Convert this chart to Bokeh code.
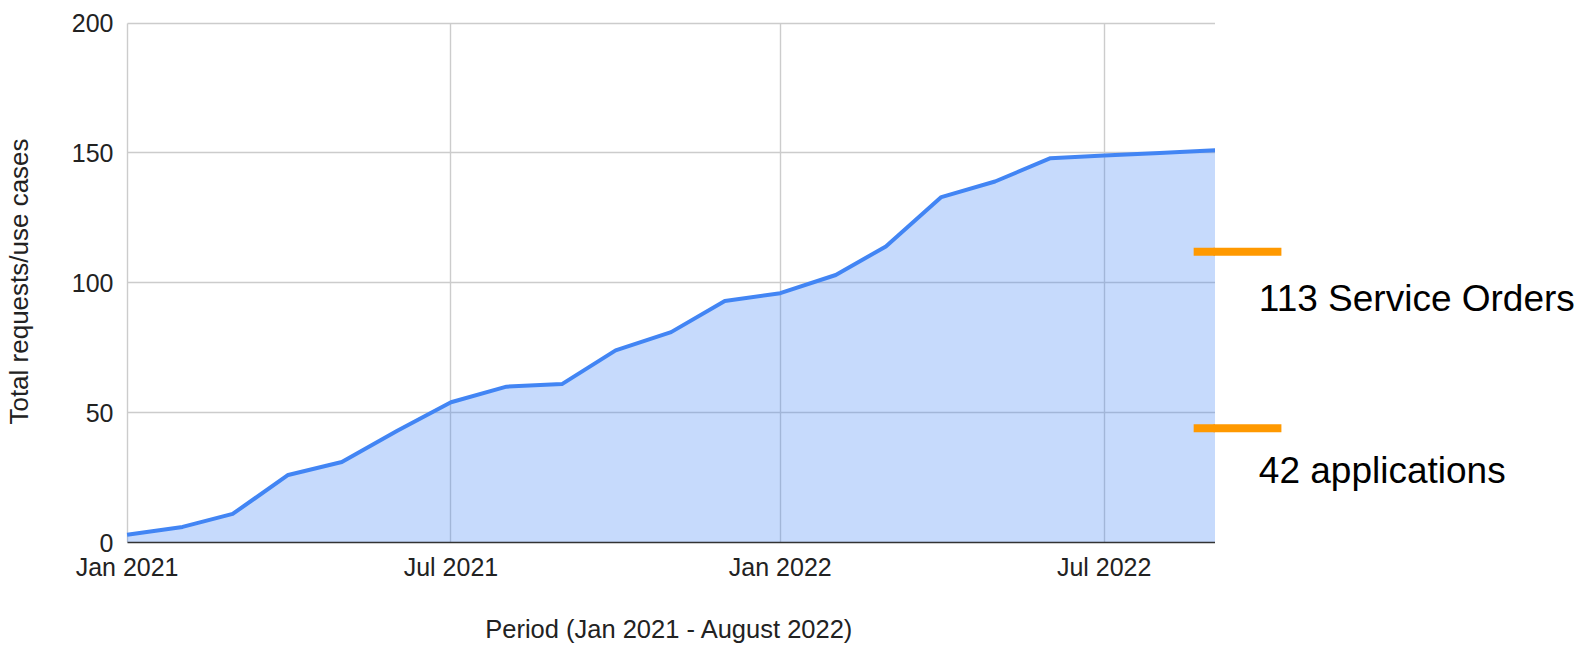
import pandas as pd
from bokeh.plotting import figure
from bokeh.layouts import row
from bokeh.models import Range1d, FixedTicker, MonthsTicker, DatetimeTickFormatter, ColumnDataSource
from bokeh.core.properties import value
from bokeh.embed import file_html
from bokeh.resources import INLINE

# ---------------- data ----------------
months = ["2021-01", "2021-02", "2021-03", "2021-04", "2021-05", "2021-06",
          "2021-07", "2021-08", "2021-09", "2021-10", "2021-11", "2021-12",
          "2022-01", "2022-02", "2022-03", "2022-04", "2022-05", "2022-06",
          "2022-07", "2022-08", "2022-09"]
totals = [3, 6, 11, 26, 31, 43, 54, 60, 61, 74, 81, 93,
          96, 103, 114, 133, 139, 148, 149, 150, 151]
y_ticks = [0, 50, 100, 150, 200]
x_tick_months = [0, 6]          # Jan and Jul
annot_labels = ["113 Service Orders", "42 applications"]
annot_marker_levels = [112, 44]
annot_text_levels = [93.8, 27.7]
x_title = "Period (Jan 2021 - August 2022)"
y_title = "Total requests/use cases"

# ---------------- build ----------------
dates = pd.to_datetime([m + "-01" for m in months])
first, last = dates[0], dates[-1]
src = ColumnDataSource(dict(x=dates, y=totals, y0=[0] * len(totals)))

PX_PER_DAY = 1.7912
W, H = 1581, 645
W1 = 1215                     # main chart width; the annotation strip takes the rest
OVERLAP = 2                   # strip slightly overlaps the chart (transparent)
W2 = W - W1
ML, MT, MB = 122, 20, 103
x_start = first - pd.Timedelta(days=2)
x_mid = x_start + pd.Timedelta(days=(W1 - ML) / PX_PER_DAY)
q_start = x_mid - pd.Timedelta(days=OVERLAP / PX_PER_DAY)
q_end = q_start + pd.Timedelta(days=W2 / PX_PER_DAY)
y_range = Range1d(0, 201)

FONT = "Liberation Sans"
TXT = "#222222"

p = figure(width=W1, height=H, x_axis_type="datetime",
           x_range=Range1d(x_start, x_mid), y_range=y_range,
           output_backend="svg", toolbar_location=None,
           min_border_left=ML, min_border_right=0,
           min_border_top=MT, min_border_bottom=MB)
p.outline_line_color = None
p.background_fill_color = "white"
p.border_fill_color = "white"

# area + line
p.varea(x="x", y1="y0", y2="y", source=src, fill_color="#4285f4", fill_alpha=0.3)
p.line(x="x", y="y", source=src, line_color="#4285f4", line_width=4, line_join="round")

# annotation strip to the right of the chart, continuing the same scales
q = figure(width=W2, height=H, x_axis_type="datetime",
           x_range=Range1d(q_start, q_end), y_range=y_range,
           x_axis_location=None, y_axis_location=None,
           output_backend="svg", toolbar_location=None,
           min_border_left=0, min_border_right=0,
           min_border_top=MT, min_border_bottom=MB,
           margin=(0, 0, 0, -OVERLAP))
q.outline_line_color = None
q.grid.visible = False
q.background_fill_color = None
q.border_fill_color = None

seg_x0 = [last - pd.Timedelta(days=12)] * 2
seg_x1 = [last + pd.Timedelta(days=37)] * 2
for fig in (p, q):
    fig.segment(x0=seg_x0, y0=annot_marker_levels, x1=seg_x1, y1=annot_marker_levels,
                line_color="#ff9900", line_width=8, line_cap="butt")
q.text(x=[last + pd.Timedelta(days=24.4)] * 2, y=annot_text_levels, text=annot_labels,
       text_font=value(FONT), text_font_size="37px", text_color="#000000",
       text_align="left", text_baseline="alphabetic", text_line_height=1.0)

# x axis
xa = p.xaxis[0]
xa.ticker = MonthsTicker(months=x_tick_months)
xa.formatter = DatetimeTickFormatter(months="%b %Y", years="%b %Y", days="%b %Y")
xa.bounds = (first, last)
xa.axis_line_color = "#333333"
xa.axis_line_width = 1.5
xa.major_tick_line_color = None
xa.minor_tick_line_color = None
xa.major_tick_out = 0
xa.major_tick_in = 0
xa.minor_tick_out = 0
xa.major_label_standoff = 10
xa.major_label_text_font = FONT
xa.major_label_text_font_size = "25px"
xa.major_label_text_color = TXT
xa.axis_label = x_title
xa.axis_label_text_font = FONT
xa.axis_label_text_font_size = "25.5px"
xa.axis_label_text_font_style = "normal"
xa.axis_label_text_color = TXT
xa.axis_label_standoff = 31

# y axis
ya = p.yaxis[0]
ya.ticker = FixedTicker(ticks=y_ticks)
ya.axis_line_color = None
ya.major_tick_line_color = None
ya.minor_tick_line_color = None
ya.major_tick_out = 0
ya.major_tick_in = 0
ya.minor_tick_out = 0
ya.major_label_standoff = 10
ya.major_label_text_font = FONT
ya.major_label_text_font_size = "25px"
ya.major_label_text_color = TXT
ya.axis_label = y_title
ya.axis_label_text_font = FONT
ya.axis_label_text_font_size = "26px"
ya.axis_label_text_font_style = "normal"
ya.axis_label_text_color = TXT
ya.axis_label_standoff = 35

# grids
first_ms = first.timestamp() * 1000
last_ms = last.timestamp() * 1000
p.xgrid.grid_line_color = "#cccccc"
p.xgrid.grid_line_width = 1.4
p.xgrid.cross_bounds = (0, 200)
p.ygrid.grid_line_color = "#cccccc"
p.ygrid.grid_line_width = 1.4
p.ygrid.cross_bounds = (first_ms, last_ms)

open("out.html", "w").write(file_html(row(p, q), INLINE))
